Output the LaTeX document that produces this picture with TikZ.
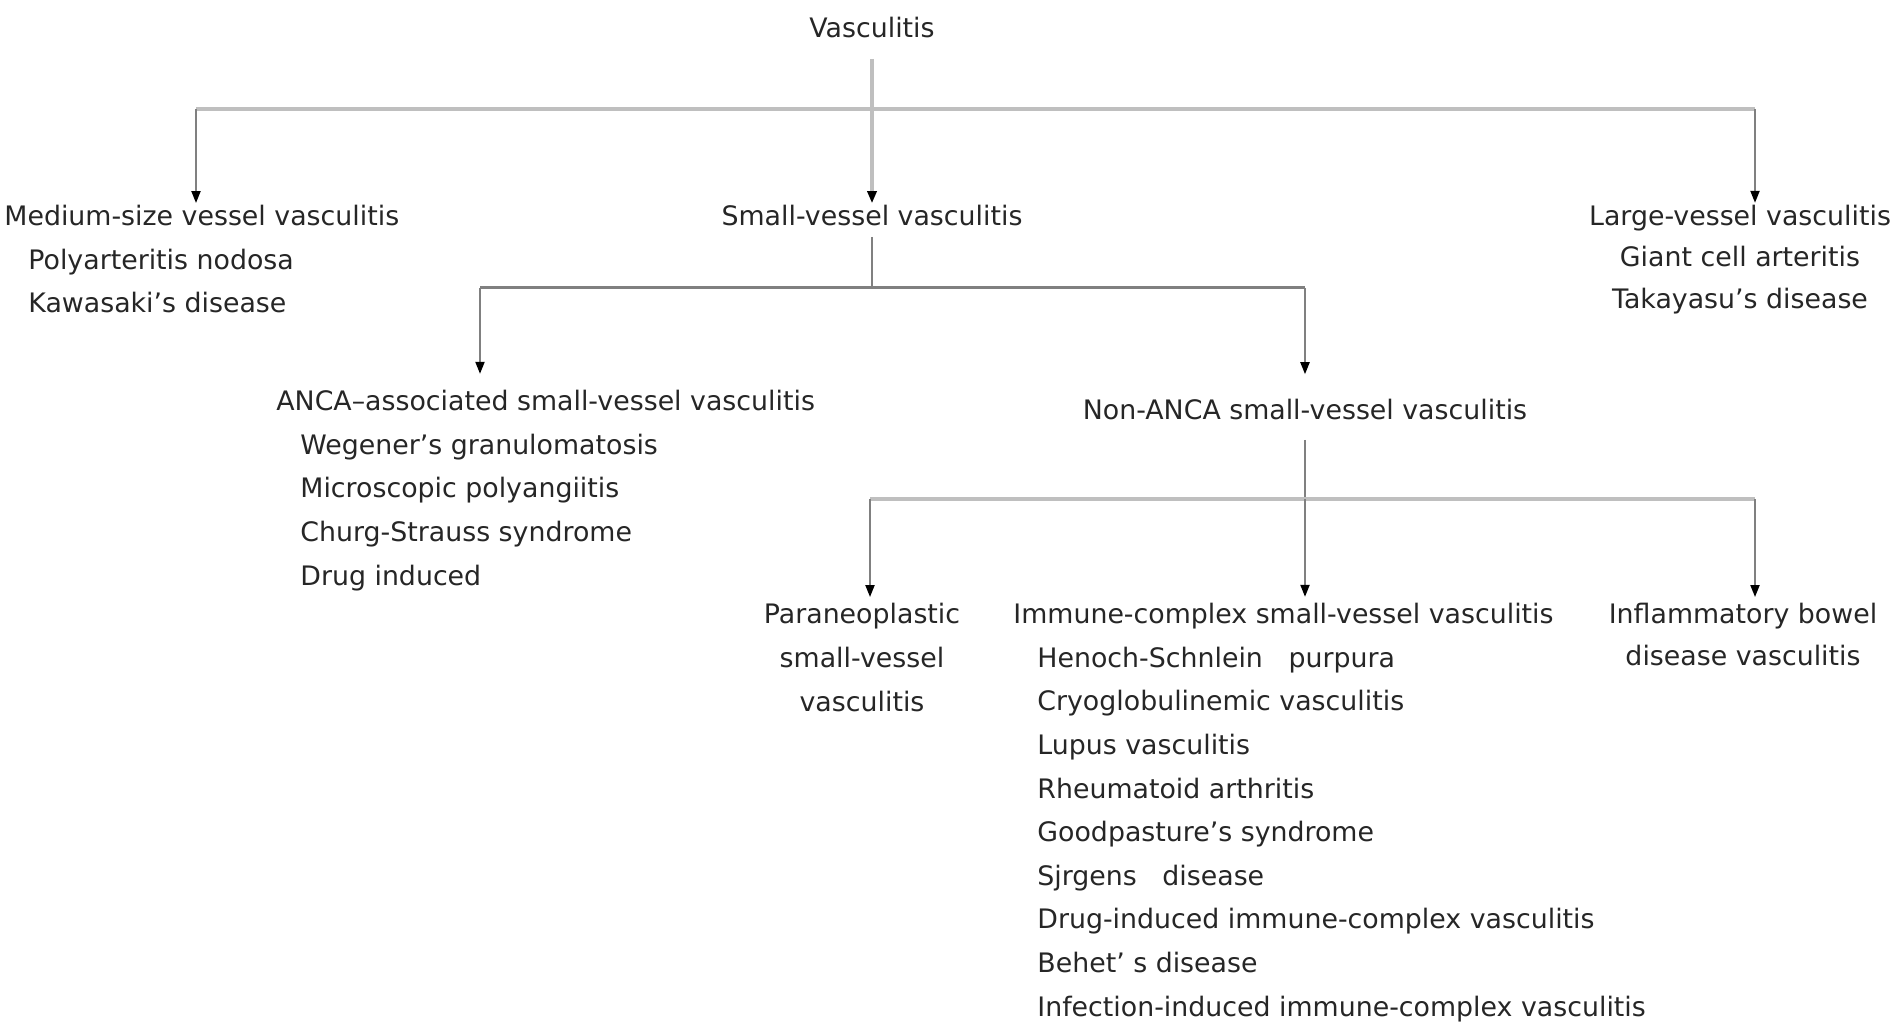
\documentclass[tikz,border=0pt]{standalone}
\usepackage{fontspec}
\setmainfont{DejaVu Sans}
\usetikzlibrary{arrows.meta}
\newcommand\vitem{\hspace*{12pt}}

\begin{document}
\begin{tikzpicture}[
  x=0.5pt, y=-0.5pt,
  lab/.style={inner sep=0pt, font=\fontsize{13.4pt}{21.8pt}\selectfont, text=black!85},
  tight/.style={font=\fontsize{13.4pt}{20.6pt}\selectfont},
  lst/.style={lab, align=left, anchor=base west},
  ctr/.style={lab, align=center, anchor=base},
  bar/.style={line width=1.8pt, draw=black!25},
  darkbar/.style={line width=1.5pt, draw=black!50},
  stem/.style={line width=1pt, draw=black!50},
  flow/.style={-{Triangle[length=6pt, width=4.5pt, color=black]}}
]
\useasboundingbox (0,0) rectangle (1895,1027);

% multi-line nodes are placed by the baseline of their last line
\node[ctr] (root) at (872,38) {Vasculitis};
\node[lst] (med) at (4,313) {Medium-size vessel vasculitis\\\vitem Polyarteritis nodosa\\\vitem Kawasaki’s disease};
\node[ctr] (small) at (872,226) {Small-vessel vasculitis};
\node[ctr, tight] (large) at (1740,308) {Large-vessel vasculitis\\Giant cell arteritis\\Takayasu’s disease};
\node[lst] (anca) at (276,585) {ANCA–associated small-vessel vasculitis\\\vitem Wegener’s granulomatosis\\\vitem Microscopic polyangiitis\\\vitem Churg-Strauss syndrome\\\vitem Drug induced};
\node[ctr] (nonanca) at (1305,419) {Non-ANCA small-vessel vasculitis};
\node[ctr] (para) at (862,711) {Paraneoplastic\\small-vessel\\vasculitis};
\node[lst] (immune) at (1013,1016) {Immune-complex small-vessel vasculitis\\\vitem Henoch-Schnlein\ \ \ purpura\\\vitem Cryoglobulinemic vasculitis\\\vitem Lupus vasculitis\\\vitem Rheumatoid arthritis\\\vitem Goodpasture’s syndrome\\\vitem Sjrgens\ \ \ disease\\\vitem Drug-induced immune-complex vasculitis\\\vitem Behet’ s disease\\\vitem Infection-induced immune-complex vasculitis};
\node[ctr, tight] (ibd) at (1743,665) {Inflammatory bowel\\disease vasculitis};

% branch points
\coordinate (b1w) at (196,109);
\coordinate (b1e) at (1755,109);
\coordinate (b2w) at (480,288);
\coordinate (b2e) at (1305,288);
\coordinate (b3w) at (870,499);
\coordinate (b3e) at (1755,499);

\draw[bar] (b1w) -- (b1e);
\draw[bar, flow, shorten <=10pt, shorten >=1pt] (root) -- (small);
\draw[stem, flow, shorten >=1pt] (b1w) -- (b1w |- med.north);
\draw[stem, flow, shorten >=1pt] (b1e) -- (b1e |- large.north);

\draw[stem, shorten <=5pt] (small) -- (small |- b2w);
\draw[darkbar] (b2w) -- (b2e);
\draw[stem, flow, shorten >=8pt] (b2w) -- (b2w |- anca.north);
\draw[stem, flow, shorten >=12pt] (b2e) -- (nonanca);

\draw[stem, shorten <=10pt] (nonanca) -- (nonanca |- b3w);
\draw[bar] (b3w) -- (b3e);
\draw[stem, flow, shorten >=3pt] (nonanca |- b3w) -- (nonanca |- immune.north);
\draw[stem, flow, shorten >=3pt] (b3w) -- (b3w |- para.north);
\draw[stem, flow, shorten >=3pt] (b3e) -- (b3e |- ibd.north);
\end{tikzpicture}
\end{document}
